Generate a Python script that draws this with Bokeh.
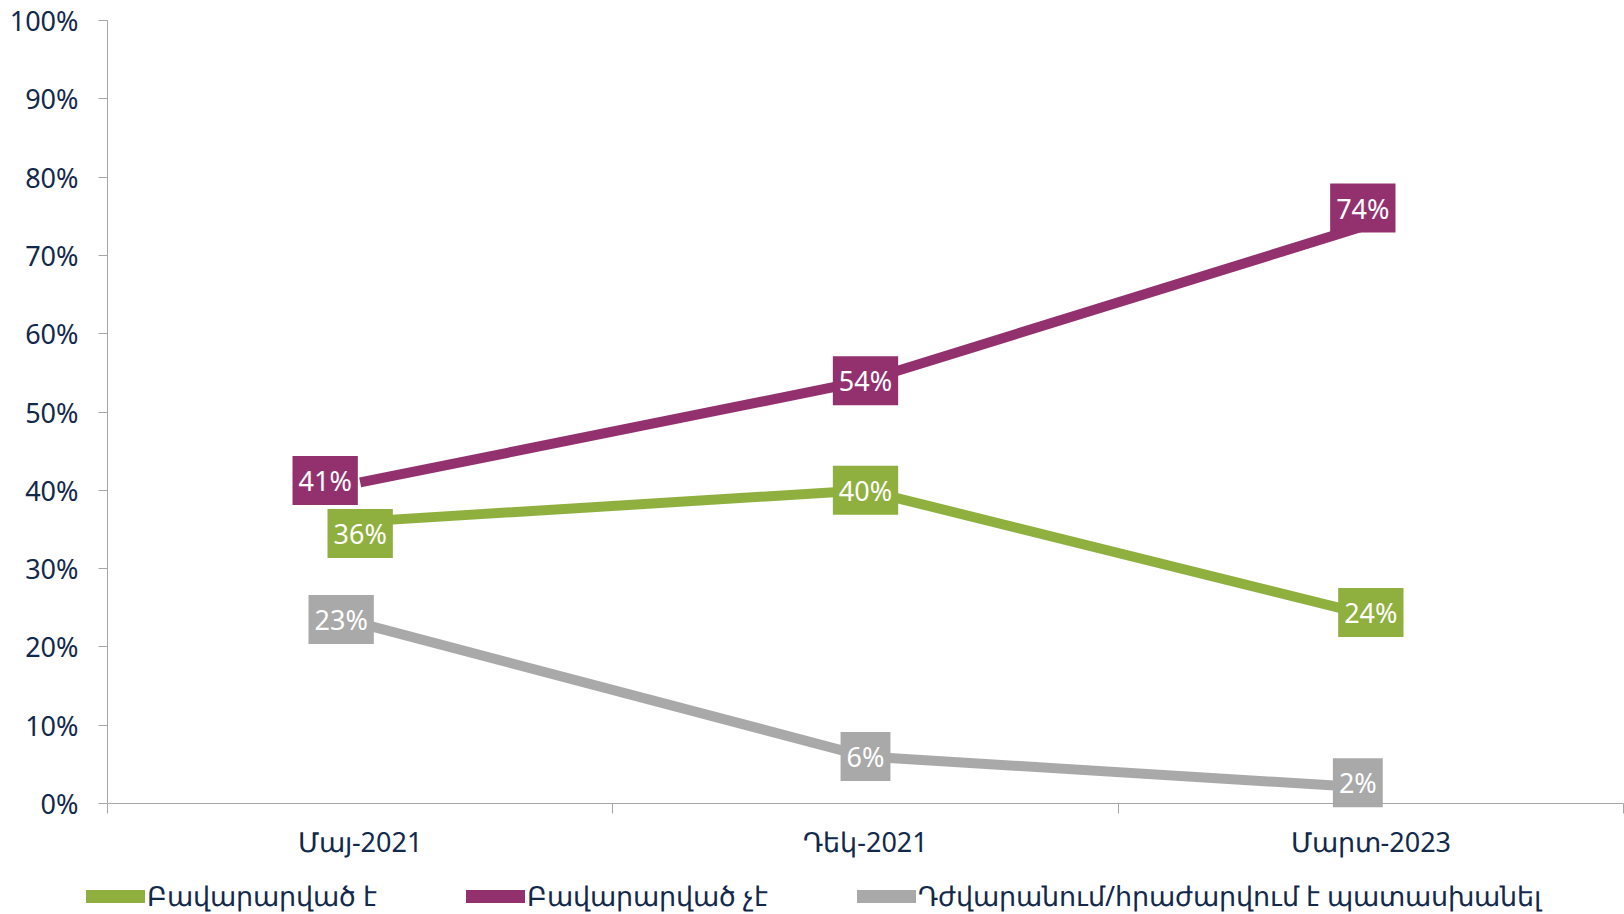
from bokeh.plotting import figure
from bokeh.models import FixedTicker, PrintfTickFormatter, Legend, LegendItem, Range1d
from bokeh.embed import file_html
from bokeh.resources import INLINE
from bokeh.core.properties import value

# ---- data ----
categories = ["Մայ-2021", "Դեկ-2021", "Մարտ-2023"]
satisfied = [36, 40, 24]
not_satisfied = [41, 54, 74]
no_answer = [23, 6, 2]
series_names = ["Բավարարված է", "Բավարարված չէ", "Դժվարանում/հրաժարվում է պատասխանել"]
y_ticks = [0, 10, 20, 30, 40, 50, 60, 70, 80, 90, 100]

# ---- styling / layout ----
FONT = "Noto Sans"
NAVY = "#13294b"
AXIS_GRAY = "#a6a6a6"
colors = ["#8fb03e", "#93316f", "#a9a9a9"]
# label nudges in screen pixels (dx, dy)
label_dx = [[0, 0, 0], [-35, 0, -8], [-19, 0, -13]]
label_dy = [[12, 0, -3], [-2, 0, -16], [-4, 0, -5]]

W, H = 1624, 914
PLOT_L, PLOT_R, PLOT_T, PLOT_B = 107, 1623, 20, 803   # pixel box of the axes
n = len(categories)
x_lo, x_hi = 0.5, n + 0.5
y_lo, y_hi = y_ticks[0], y_ticks[-1]
xs = (PLOT_R - PLOT_L) / (x_hi - x_lo)
ys = (PLOT_B - PLOT_T) / (y_hi - y_lo)
x_range = Range1d(x_lo - PLOT_L / xs, x_hi + (W - PLOT_R) / xs)
y_range = Range1d(y_lo - (H - PLOT_B) / ys, y_hi + PLOT_T / ys)

x_pos = list(range(1, n + 1))
series = [satisfied, not_satisfied, no_answer]

p = figure(width=W, height=H, x_range=x_range, y_range=y_range,
           output_backend="svg", toolbar_location=None, min_border=0)
p.outline_line_color = None
p.xgrid.visible = False
p.ygrid.visible = False

xa = p.xaxis[0]
xa.fixed_location = y_lo
xa.bounds = (x_lo, x_hi)
xa.ticker = FixedTicker(ticks=x_pos, minor_ticks=[i + 0.5 for i in range(n + 1)])
xa.major_label_overrides = {x: c for x, c in zip(x_pos, categories)}
xa.major_tick_out = 0
xa.major_tick_in = 0
xa.minor_tick_out = 10
xa.minor_tick_in = 0
xa.minor_tick_line_color = AXIS_GRAY
xa.axis_line_color = AXIS_GRAY
xa.major_label_standoff = 9
xa.major_label_text_font = FONT
xa.major_label_text_font_size = "27px"
xa.major_label_text_color = NAVY

ya = p.yaxis[0]
ya.fixed_location = x_lo
ya.bounds = (y_lo, y_hi)
ya.ticker = FixedTicker(ticks=y_ticks, minor_ticks=[])
ya.formatter = PrintfTickFormatter(format="%d%%")
ya.major_tick_out = 9
ya.major_tick_in = 0
ya.minor_tick_out = 0
ya.minor_tick_in = 0
ya.major_tick_line_color = AXIS_GRAY
ya.axis_line_color = AXIS_GRAY
ya.major_label_standoff = 20
ya.major_label_text_font = FONT
ya.major_label_text_font_size = "27px"
ya.major_label_text_color = NAVY

proxies = []
for vals, c in zip(series, colors):
    p.line(x_pos, vals, line_width=10, color=c, line_join="miter")
    proxies.append(p.line(x_pos, vals, line_width=13, color=c, line_cap="round", visible=False))

for vals, c, dx, dy in zip(series, colors, label_dx, label_dy):
    p.text(x=x_pos, y=vals, text=[f"{v}%" for v in vals], x_offset=dx, y_offset=dy,
           text_align="center", text_baseline="middle", text_color="white",
           text_font=value(FONT), text_font_size="27px",
           background_fill_color=c, padding=6)

legend = Legend(items=[LegendItem(label=nm, renderers=[r]) for nm, r in zip(series_names, proxies)],
                orientation="horizontal", location=(86, 0),
                glyph_width=59, glyph_height=14, label_standoff=2, spacing=89,
                padding=0, margin=0, border_line_color=None, background_fill_alpha=0,
                label_text_font=FONT, label_text_font_size="27px", label_text_color=NAVY)
p.add_layout(legend)

open("out.html", "w").write(file_html(p, INLINE))
